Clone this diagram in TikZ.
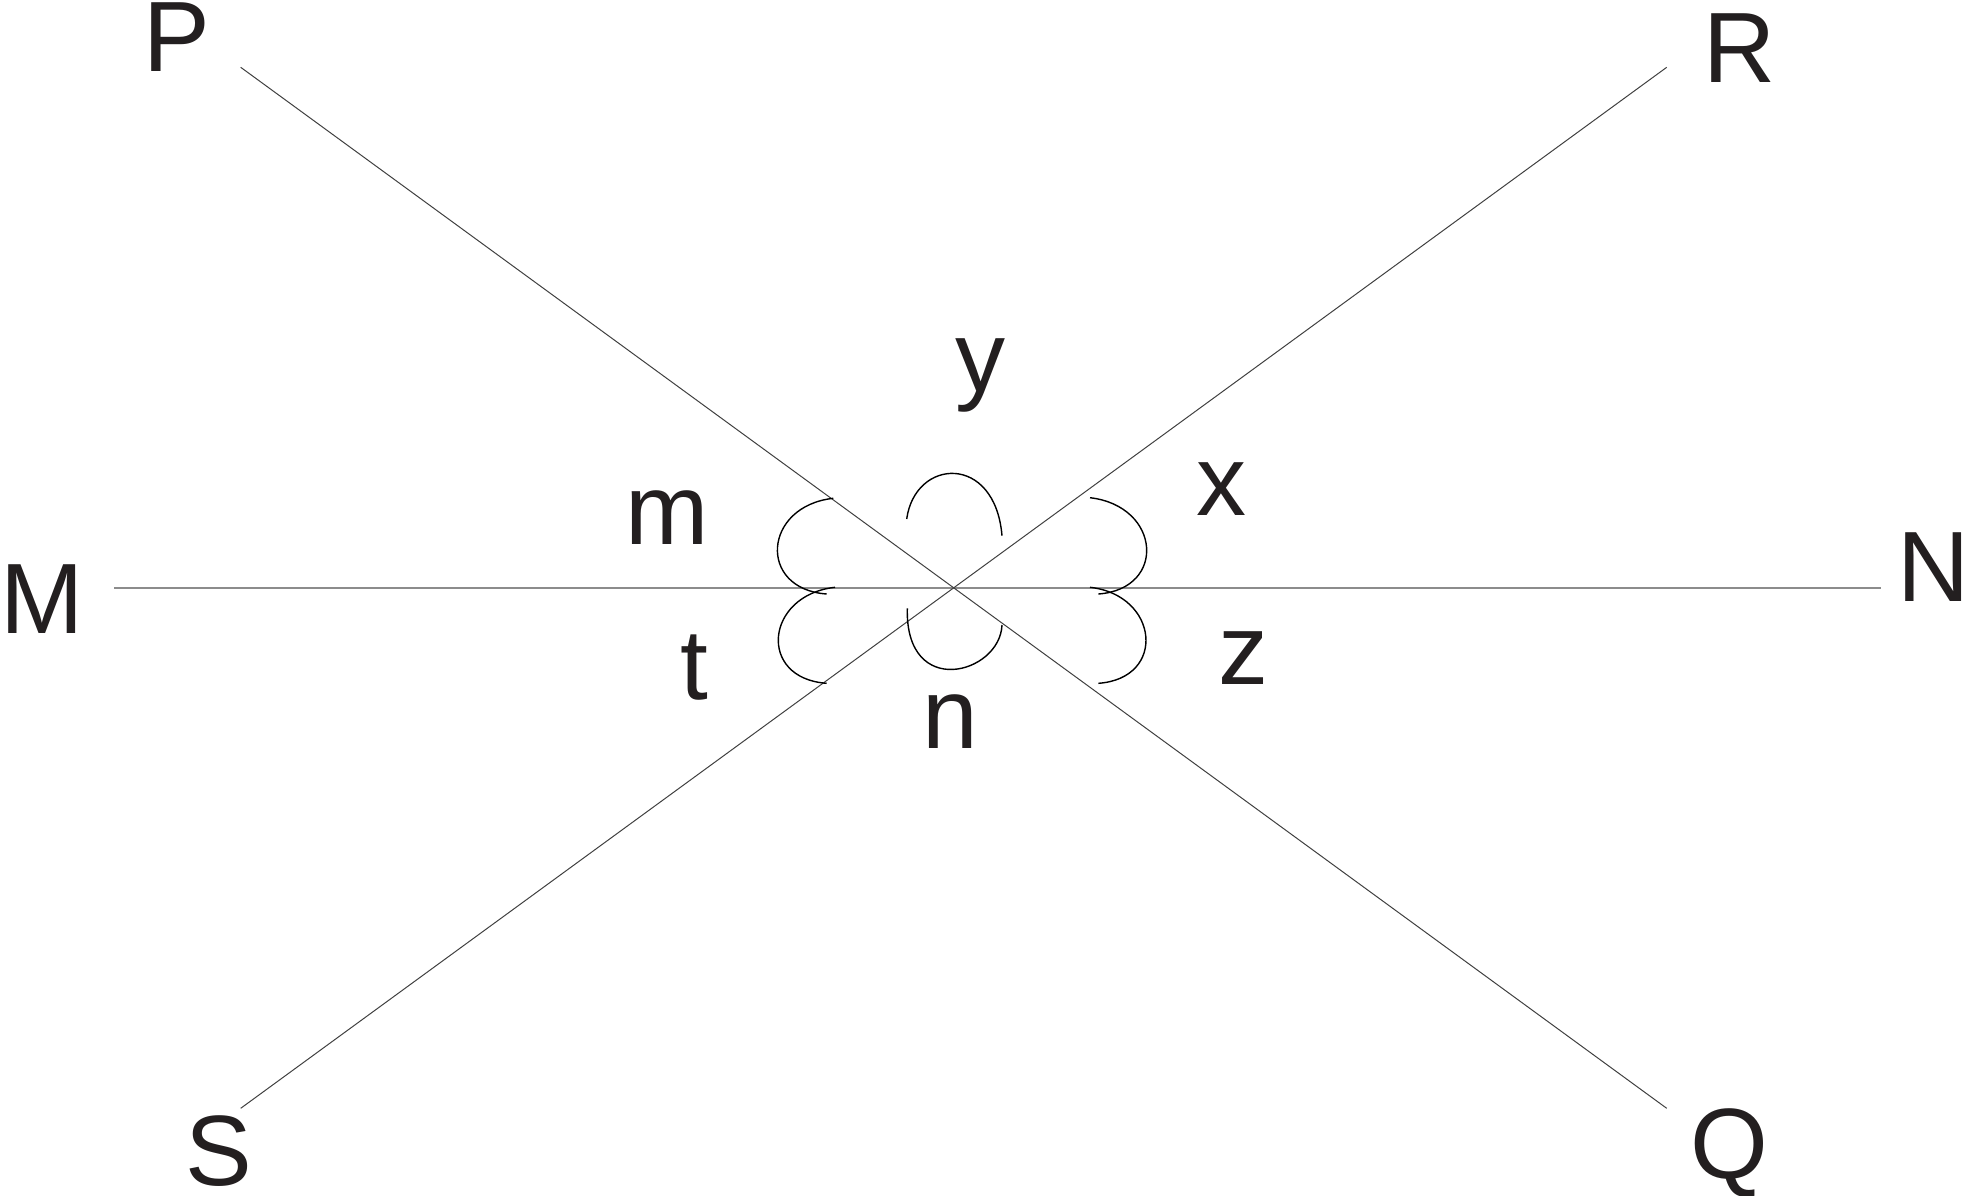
\documentclass[tikz,border=0pt]{standalone}
\usepackage{fontspec}
\setmainfont{Liberation Sans}
\definecolor{ink}{RGB}{35,31,32}
\begin{document}
\begin{tikzpicture}[x=0.5pt,y=-0.5pt,
  lbl/.style={inner sep=0pt,outer sep=0pt,text=ink,font=\fontsize{50}{60}\selectfont},
  diag/.style={line width=0.5pt,draw=black!75},
  horiz/.style={line width=0.9pt,draw=black!45},
  arcline/.style={line width=0.7pt,draw=black}]
\useasboundingbox (0,0) rectangle (1963,1195);
% end points of the lines
\coordinate (Pe) at (240.7,67.3);
\coordinate (Qe) at (1666.7,1108.3);
\coordinate (Re) at (1666.7,67.3);
\coordinate (Se) at (240.7,1108.3);
\coordinate (Me) at (114.3,588);
\coordinate (Ne) at (1881,588);
% lines
\draw[horiz] (Me) -- (Ne);
\draw[diag] (Pe) -- (Qe);
\draw[diag] (Re) -- (Se);
% angle arcs
\draw[arcline] (833.3,498.3) .. controls (763,506) and (757,589) .. (826.7,594);
\draw[arcline] (835,587.3) .. controls (765,595) and (757,678.5) .. (826.7,683.3);
\draw[arcline] (1090,497.7) .. controls (1161,506) and (1167,589) .. (1098.3,594);
\draw[arcline] (1090,587.3) .. controls (1159,595) and (1167,678.5) .. (1098.3,683.3);
\draw[arcline] (906.7,519) .. controls (915,458) and (995,453) .. (1002,535.7);
\draw[arcline] (907.3,608.3) .. controls (905,700) and (1000,674) .. (1002,625);
% point labels
\node[lbl] (P) at (177,37) {P};
\node[lbl] (R) at (1740,48) {R};
\node[lbl] (M) at (42,599) {M};
\node[lbl] (N) at (1934,567.5) {N};
\node[lbl] (S) at (219,1151) {S};
\node[lbl] (Q) at (1729,1153) {Q};
% angle labels
\node[lbl] (ly) at (980,375) {y};
\node[lbl] (lm) at (667,517.5) {m};
\node[lbl] (lt) at (694,668) {t};
\node[lbl] (ln) at (950,722) {n};
\node[lbl] (lx) at (1221,488.7) {x};
\node[lbl] (lz) at (1243,658) {z};
\end{tikzpicture}
\end{document}
